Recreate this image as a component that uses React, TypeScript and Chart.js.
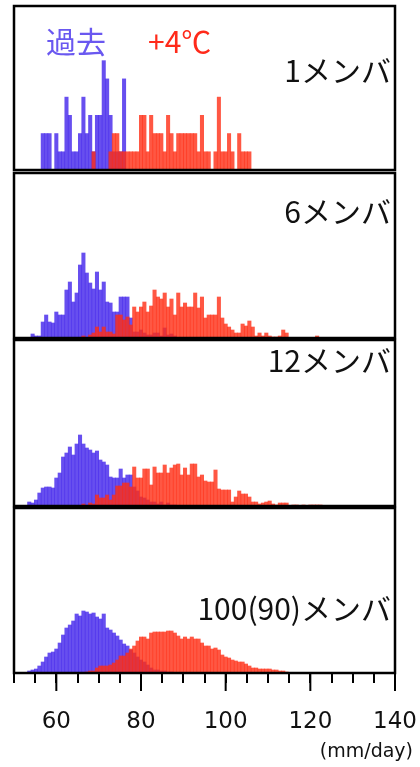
import React, { useEffect, useRef } from "react";
import { Chart, registerables } from "chart.js";

Chart.register(...registerables);

// ---------- data ----------
const BIN_START = 52.4; // mm/day, left edge of first bin
const BIN_WIDTH = 0.8;  // mm/day
const BIN_COUNT = 92;
const binCenters = Array.from({ length: BIN_COUNT }, (_, i) =>
  Math.round((BIN_START + BIN_WIDTH * (i + 0.5)) * 100) / 100
);

const xTickLabels = [60, 80, 100, 120, 140];
const panelTitles = ["1メンバ", "6メンバ", "12メンバ", "100(90)メンバ"];
const seriesNames = ["過去", "+4℃"];

// past climate (blue)
const pastMember1 = [0, 0, 0, 0, 0, 2, 2, 2, 0, 2, 1, 1, 4, 3, 1, 1, 2, 4, 2, 3, 1, 3, 3, 6, 5, 3, 1, 1, 1, 5];
const pastMember6 = [0, 0, 4, 2, 2, 16, 23, 16, 15, 26, 23, 23, 48, 56, 36, 45, 73, 85, 65, 55, 49, 66, 48, 56, 36, 35, 26, 26, 41, 41, 41, 20, 6, 6, 8, 5, 3, 3, 5, 5, 2, 10, 3, 4, 2];
const pastMember12 = [0, 4, 3, 6, 13, 18, 19, 19, 18, 28, 33, 49, 53, 59, 51, 62, 71, 62, 58, 56, 53, 55, 46, 44, 41, 29, 28, 28, 37, 28, 31, 31, 19, 15, 9, 8, 6, 4, 4, 2, 4, 1, 3, 1, 1];
const pastMember100 = [0, 2, 3, 4, 7, 11, 16, 20, 21, 24, 30, 38, 45, 48, 52, 59, 57, 62, 61, 59, 60, 56, 54, 59, 45, 43, 40, 37, 33, 29, 27, 23, 20, 16, 13, 11, 8, 5, 3, 3, 2, 2, 1, 1];

// +4 degree climate (red)
const warmMember1 = [
  0, 0, 0, 0, 0, 0, 0, 0, 0, 0, 0, 0, 0, 0, 0, 0, 0, 0, 0, 0,
  1, 0, 0, 0, 0, 1, 2, 2, 1, 1,
  1, 1, 1, 1, 3, 3, 1, 3, 2, 2,
  2, 1, 3, 2, 1, 2, 2, 2, 2, 2,
  2, 1, 3, 1, 1, 0, 1, 4, 1, 1,
  2, 1, 0, 2, 1, 1, 1,
];
const warmMember6 = [
  0, 0, 0, 0, 0, 0, 0, 0, 0, 0, 0, 0, 0, 0, 0, 0, 0, 2, 0, 3,
  5, 11, 6, 11, 6, 6, 4, 23, 23, 18,
  21, 13, 31, 26, 31, 36, 26, 32, 48, 41,
  39, 45, 31, 39, 23, 45, 31, 35, 31, 31,
  45, 30, 41, 20, 23, 23, 23, 41, 20, 14,
  11, 8, 5, 5, 14, 12, 17, 11, 2, 5,
  2, 5, 2, 1, 1, 2, 8, 5, 0, 0,
  0, 0, 0, 0, 0, 0, 2,
];
const warmMember12 = [
  0, 0, 0, 0, 0, 0, 0, 0, 0, 0, 0, 0, 0, 0, 0, 0, 0, 2, 0, 3,
  2, 11, 8, 8, 11, 6, 11, 20, 20, 23,
  23, 19, 39, 28, 28, 37, 37, 21, 39, 33,
  33, 41, 33, 38, 41, 42, 31, 38, 31, 42,
  42, 29, 31, 25, 24, 24, 36, 17, 16, 16,
  16, 4, 9, 15, 12, 12, 9, 4, 4, 2,
  3, 4, 5, 2, 1, 3, 3, 3, 0, 1,
  1, 0, 1, 0, 1, 1, 1, 1,
];
const warmMember100 = [
  0, 0, 0, 0, 0, 0, 0, 0, 0, 0, 0, 0, 0, 0, 0, 0, 0, 0, 1, 2,
  2, 5, 7, 7, 7, 8, 10, 13, 17, 17,
  20, 24, 27, 32, 36, 36, 34, 40, 41, 41,
  41, 41, 42, 42, 40, 37, 34, 36, 34, 36,
  34, 34, 30, 27, 27, 24, 25, 23, 18, 16,
  15, 13, 12, 11, 11, 9, 7, 5, 5, 4,
  4, 4, 4, 3, 3, 2, 2, 1,
];

const pastSeries = [pastMember1, pastMember6, pastMember12, pastMember100];
const warmSeries = [warmMember1, warmMember6, warmMember12, warmMember100];
const panelYMax = [9, 165, 166, 165];

// ---------- layout / style ----------
const W = 420;
const H = 767;
const PAD_L = 14;
const PAD_R = 25;
const FRAME = 3;
const LAYOUT = [
  { top: 6, bottom: 170, labelY: 82 },
  { top: 173, bottom: 338, labelY: 223 },
  { top: 340, bottom: 506, labelY: 372 },
  { top: 508, bottom: 673, labelY: 620 },
];
const BLUE = "rgba(70, 40, 235, 0.82)";
const RED = "rgba(255, 45, 20, 0.8)";
const CJK = '"Noto Sans CJK JP", "Noto Sans", sans-serif';

function toPoints(values: number[]) {
  return binCenters.map((x, i) => ({ x, y: values[i] ?? 0 }));
}

export default function App() {
  const refs = [useRef<HTMLCanvasElement>(null), useRef<HTMLCanvasElement>(null), useRef<HTMLCanvasElement>(null), useRef<HTMLCanvasElement>(null)];

  const canvasTops = LAYOUT.map((l) => l.top - FRAME);
  const canvasHeights = LAYOUT.map((l, k) =>
    k === 3 ? H - (l.top - FRAME) : l.bottom - l.top + 2 * FRAME
  );

  useEffect(() => {
    const charts = refs.map((ref, k) => {
      const isLast = k === 3;
      const L = LAYOUT[k];
      const cTop = canvasTops[k];

      const framePlugin = {
        id: "frame" + k,
        afterDatasetsDraw(chart: any) {
          const { ctx, chartArea: a } = chart;
          ctx.save();
          ctx.strokeStyle = "#000";
          ctx.lineWidth = 2.5;
          ctx.strokeRect(a.left, a.top, a.right - a.left, a.bottom - a.top);
          ctx.restore();
        },
        afterDraw(chart: any) {
          const { ctx, chartArea: a } = chart;
          ctx.save();
          ctx.fillStyle = "#111";
          ctx.font = `30px ${CJK}`;
          ctx.textAlign = "right";
          ctx.textBaseline = "alphabetic";
          ctx.fillText(panelTitles[k], 391, L.labelY - cTop);
          if (k === 0) {
            ctx.textAlign = "left";
            ctx.fillStyle = "#6a58f0";
            ctx.fillText(seriesNames[0], 46, 53 - cTop);
            ctx.fillStyle = "#ff2a1a";
            ctx.fillText(seriesNames[1], 148, 53 - cTop);
          }
          if (isLast) {
            const xs = chart.scales.x;
            ctx.strokeStyle = "#000";
            ctx.lineWidth = 2;
            xTickLabels.forEach((v) => {
              const px = xs.getPixelForValue(v);
              ctx.beginPath();
              ctx.moveTo(px, a.bottom);
              ctx.lineTo(px, a.bottom + 18);
              ctx.stroke();
            });
            ctx.fillStyle = "#111";
            ctx.font = '19px "DejaVu Sans", sans-serif';
            ctx.textAlign = "right";
            ctx.fillText("(mm/day)", 413, 757 - cTop);
          }
          ctx.restore();
        },
      };

      const xScale: any = {
        type: "linear",
        min: 50,
        max: 140,
        offset: false,
        display: isLast,
        grid: {
          offset: false,
          display: true,
          drawOnChartArea: false,
          drawTicks: true,
          tickLength: 10,
          color: "#000",
          lineWidth: 2,
        },
        border: { display: false },
        ticks: {
          stepSize: 5,
          autoSkip: false,
          maxRotation: 0,
          padding: 25,
          color: "#111",
          font: { family: '"DejaVu Sans", sans-serif', size: 23 },
          callback: (v: any) => (xTickLabels.includes(Number(v)) ? String(v) : ""),
        },
      };
      if (isLast) {
        xScale.afterFit = (s: any) => {
          s.height = H - L.bottom;
          s.paddingLeft = 0;
          s.paddingRight = 0;
        };
      }

      return new Chart(ref.current as HTMLCanvasElement, {
        type: "bar",
        data: {
          datasets: [
            {
              label: seriesNames[1],
              data: toPoints(warmSeries[k]),
              backgroundColor: RED,
              borderWidth: 0,
              grouped: false,
              order: 1,
              barPercentage: 1,
              categoryPercentage: 1,
            } as any,
            {
              label: seriesNames[0],
              data: toPoints(pastSeries[k]),
              backgroundColor: BLUE,
              borderWidth: 0,
              grouped: false,
              order: 2,
              barPercentage: 1,
              categoryPercentage: 1,
            } as any,
          ],
        },
        options: {
          responsive: false,
          animation: false,
          devicePixelRatio: 1,
          layout: {
            padding: { left: PAD_L, right: PAD_R, top: FRAME, bottom: isLast ? 0 : FRAME },
          },
          plugins: {
            legend: { display: false },
            tooltip: { enabled: false },
          },
          scales: {
            x: xScale,
            y: {
              min: 0,
              max: panelYMax[k],
              display: false,
            },
          },
        } as any,
        plugins: [framePlugin],
      });
    });
    return () => charts.forEach((c) => c.destroy());
  }, []);

  return (
    <div style={{ position: "absolute", left: 0, top: 0, width: W, height: H, background: "#fff", overflow: "hidden" }}>
      {refs.map((ref, k) => (
        <canvas
          key={k}
          ref={ref}
          width={W}
          height={canvasHeights[k]}
          style={{ position: "absolute", left: 0, top: canvasTops[k], width: W, height: canvasHeights[k] }}
        />
      ))}
    </div>
  );
}
